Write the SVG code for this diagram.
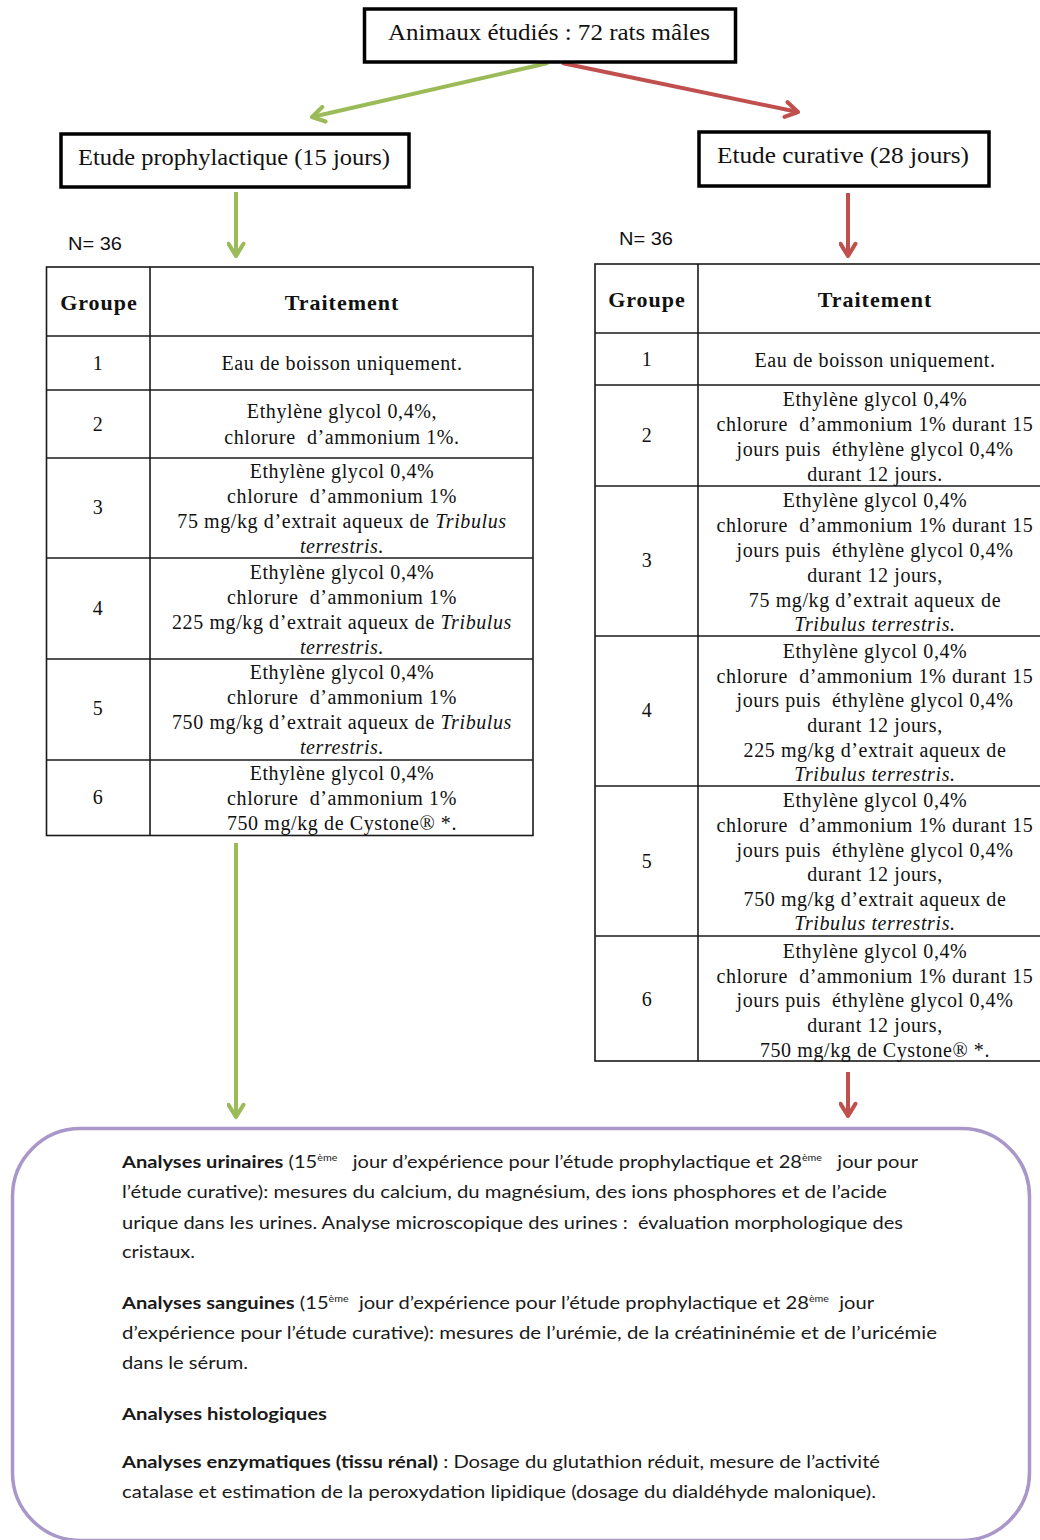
<svg xmlns="http://www.w3.org/2000/svg" width="1040" height="1540" viewBox="0 0 1040 1540">
<style>
.box{fill:#fff;stroke:#000;stroke-width:3.5}
.tbl{fill:none;stroke:#1a1a1a;stroke-width:1.6}
.hd{font-family:"Liberation Serif",serif;font-size:23px;fill:#111}
.n{font-family:"Liberation Sans",sans-serif;font-size:18px;fill:#111}
.th{font-family:"Liberation Serif",serif;font-size:22px;font-weight:bold;letter-spacing:1px;fill:#111;text-anchor:middle}
.td{font-family:"Liberation Serif",serif;font-size:20px;letter-spacing:0.6px;fill:#111;text-anchor:middle;white-space:pre}
.it{font-style:italic}
.g{stroke:#9bbb59;stroke-width:4;fill:none}
.r{stroke:#c0504d;stroke-width:4;fill:none}
.bt{font-family:Lato,"Liberation Sans",sans-serif;font-size:17px;fill:#1a1a1a;white-space:pre}
.b{font-weight:bold}
.sup{font-size:9px}
</style>
<defs>
<marker id="ag" viewBox="0 0 14 14" refX="11" refY="7" markerWidth="19" markerHeight="19" markerUnits="userSpaceOnUse" orient="auto">
<path d="M2,1.5 L11,7 L2,12.5" fill="none" stroke="#9bbb59" stroke-width="3" stroke-linecap="round" stroke-linejoin="round"/>
</marker>
<marker id="ar" viewBox="0 0 14 14" refX="11" refY="7" markerWidth="19" markerHeight="19" markerUnits="userSpaceOnUse" orient="auto">
<path d="M2,1.5 L11,7 L2,12.5" fill="none" stroke="#c0504d" stroke-width="3" stroke-linecap="round" stroke-linejoin="round"/>
</marker>
</defs>
<rect width="1040" height="1540" fill="#fff"/>

<g id="connectors">
<line class="g" x1="548" y1="63" x2="312" y2="117" marker-end="url(#ag)"/>
<line class="r" x1="562" y1="63" x2="798" y2="112" marker-end="url(#ar)"/>
<line class="g" x1="236" y1="192" x2="236" y2="256" marker-end="url(#ag)"/>
<line class="r" x1="848" y1="193" x2="848" y2="256" marker-end="url(#ar)"/>
<line class="g" x1="236" y1="843" x2="236" y2="1117" marker-end="url(#ag)"/>
<line class="r" x1="848" y1="1072" x2="848" y2="1116" marker-end="url(#ar)"/>
</g>

<g id="node-animaux">
<rect class="box" x="364.5" y="9" width="371" height="53"/>
<text class="hd" x="388" y="40" textLength="322" lengthAdjust="spacingAndGlyphs">Animaux étudiés : 72 rats mâles</text>
</g>

<g id="node-prophylactique">
<rect class="box" x="61" y="134" width="348" height="53"/>
<text class="hd" x="78" y="165" textLength="312" lengthAdjust="spacingAndGlyphs">Etude prophylactique (15 jours)</text>
</g>

<g id="node-curative">
<rect class="box" x="699" y="132" width="290" height="54"/>
<text class="hd" x="717" y="163" textLength="252" lengthAdjust="spacingAndGlyphs">Etude curative (28 jours)</text>
</g>

<g id="table-prophylactique">
<text class="n" x="68" y="250" textLength="54" lengthAdjust="spacingAndGlyphs">N= 36</text>
<rect class="tbl" x="46.5" y="267" width="486.5" height="568.5"/>
<line class="tbl" x1="150" y1="267" x2="150" y2="835.5"/>
<line class="tbl" x1="46.5" y1="336" x2="533" y2="336"/>
<line class="tbl" x1="46.5" y1="390" x2="533" y2="390"/>
<line class="tbl" x1="46.5" y1="458" x2="533" y2="458"/>
<line class="tbl" x1="46.5" y1="558" x2="533" y2="558"/>
<line class="tbl" x1="46.5" y1="659" x2="533" y2="659"/>
<line class="tbl" x1="46.5" y1="760" x2="533" y2="760"/>
<text class="th" x="99" y="310">Groupe</text>
<text class="th" x="342" y="310">Traitement</text>
<text class="td" x="98" y="370">1</text>
<text class="td" x="342" y="370">Eau de boisson uniquement.</text>
<text class="td" x="98" y="431">2</text>
<text class="td" x="342" y="418">Ethylène glycol 0,4%,</text>
<text class="td" x="342" y="444">chlorure  d’ammonium 1%.</text>
<text class="td" x="98" y="514">3</text>
<text class="td" x="342" y="478">Ethylène glycol 0,4%</text>
<text class="td" x="342" y="503">chlorure  d’ammonium 1%</text>
<text class="td" x="342" y="528">75 mg/kg d’extrait aqueux de <tspan class="it">Tribulus</tspan></text>
<text class="td it" x="342" y="553">terrestris.</text>
<text class="td" x="98" y="615">4</text>
<text class="td" x="342" y="579">Ethylène glycol 0,4%</text>
<text class="td" x="342" y="604">chlorure  d’ammonium 1%</text>
<text class="td" x="342" y="629">225 mg/kg d’extrait aqueux de <tspan class="it">Tribulus</tspan></text>
<text class="td it" x="342" y="654">terrestris.</text>
<text class="td" x="98" y="715">5</text>
<text class="td" x="342" y="679">Ethylène glycol 0,4%</text>
<text class="td" x="342" y="704">chlorure  d’ammonium 1%</text>
<text class="td" x="342" y="729">750 mg/kg d’extrait aqueux de <tspan class="it">Tribulus</tspan></text>
<text class="td it" x="342" y="754">terrestris.</text>
<text class="td" x="98" y="804">6</text>
<text class="td" x="342" y="780">Ethylène glycol 0,4%</text>
<text class="td" x="342" y="805">chlorure  d’ammonium 1%</text>
<text class="td" x="342" y="830">750 mg/kg de Cystone® *.</text>
</g>

<g id="table-curative">
<text class="n" x="619" y="245" textLength="54" lengthAdjust="spacingAndGlyphs">N= 36</text>
<rect class="tbl" x="595" y="264" width="460" height="797"/>
<line class="tbl" x1="698" y1="264" x2="698" y2="1061"/>
<line class="tbl" x1="595" y1="333" x2="1055" y2="333"/>
<line class="tbl" x1="595" y1="385" x2="1055" y2="385"/>
<line class="tbl" x1="595" y1="486" x2="1055" y2="486"/>
<line class="tbl" x1="595" y1="636" x2="1055" y2="636"/>
<line class="tbl" x1="595" y1="786" x2="1055" y2="786"/>
<line class="tbl" x1="595" y1="936" x2="1055" y2="936"/>
<text class="th" x="647" y="307">Groupe</text>
<text class="th" x="875" y="307">Traitement</text>
<text class="td" x="647" y="366">1</text>
<text class="td" x="875" y="367">Eau de boisson uniquement.</text>
<text class="td" x="647" y="442">2</text>
<text class="td" x="875" y="406">Ethylène glycol 0,4%</text>
<text class="td" x="875" y="431">chlorure  d’ammonium 1% durant 15</text>
<text class="td" x="875" y="456">jours puis  éthylène glycol 0,4%</text>
<text class="td" x="875" y="481">durant 12 jours.</text>
<text class="td" x="647" y="567">3</text>
<text class="td" x="875" y="507">Ethylène glycol 0,4%</text>
<text class="td" x="875" y="532">chlorure  d’ammonium 1% durant 15</text>
<text class="td" x="875" y="557">jours puis  éthylène glycol 0,4%</text>
<text class="td" x="875" y="582">durant 12 jours,</text>
<text class="td" x="875" y="607">75 mg/kg d’extrait aqueux de</text>
<text class="td it" x="875" y="631">Tribulus terrestris.</text>
<text class="td" x="647" y="717">4</text>
<text class="td" x="875" y="658">Ethylène glycol 0,4%</text>
<text class="td" x="875" y="683">chlorure  d’ammonium 1% durant 15</text>
<text class="td" x="875" y="707">jours puis  éthylène glycol 0,4%</text>
<text class="td" x="875" y="732">durant 12 jours,</text>
<text class="td" x="875" y="757">225 mg/kg d’extrait aqueux de</text>
<text class="td it" x="875" y="781">Tribulus terrestris.</text>
<text class="td" x="647" y="868">5</text>
<text class="td" x="875" y="807">Ethylène glycol 0,4%</text>
<text class="td" x="875" y="832">chlorure  d’ammonium 1% durant 15</text>
<text class="td" x="875" y="857">jours puis  éthylène glycol 0,4%</text>
<text class="td" x="875" y="881">durant 12 jours,</text>
<text class="td" x="875" y="906">750 mg/kg d’extrait aqueux de</text>
<text class="td it" x="875" y="930">Tribulus terrestris.</text>
<text class="td" x="647" y="1006">6</text>
<text class="td" x="875" y="958">Ethylène glycol 0,4%</text>
<text class="td" x="875" y="983">chlorure  d’ammonium 1% durant 15</text>
<text class="td" x="875" y="1007">jours puis  éthylène glycol 0,4%</text>
<text class="td" x="875" y="1032">durant 12 jours,</text>
<text class="td" x="875" y="1057">750 mg/kg de Cystone® *.</text>
</g>

<g id="node-analyses">
<rect x="12.5" y="1128.5" width="1017" height="412" rx="68" ry="68" fill="#fff" stroke="#a897c8" stroke-width="3.5"/>
<text class="bt" x="122" y="1168" textLength="796" lengthAdjust="spacingAndGlyphs"><tspan class="b">Analyses urinaires</tspan> (15<tspan class="sup" dy="-7">ème</tspan><tspan dy="7">   jour d’expérience pour l’étude prophylactique et 28</tspan><tspan class="sup" dy="-7">ème</tspan><tspan dy="7">   jour pour</tspan></text>
<text class="bt" x="122" y="1198" textLength="765" lengthAdjust="spacingAndGlyphs">l’étude curative): mesures du calcium, du magnésium, des ions phosphores et de l’acide</text>
<text class="bt" x="122" y="1229" textLength="781" lengthAdjust="spacingAndGlyphs">urique dans les urines. Analyse microscopique des urines :  évaluation morphologique des</text>
<text class="bt" x="122" y="1258" textLength="73" lengthAdjust="spacingAndGlyphs">cristaux.</text>
<text class="bt" x="122" y="1309" textLength="752" lengthAdjust="spacingAndGlyphs"><tspan class="b">Analyses sanguines</tspan> (15<tspan class="sup" dy="-7">ème</tspan><tspan dy="7">  jour d’expérience pour l’étude prophylactique et 28</tspan><tspan class="sup" dy="-7">ème</tspan><tspan dy="7">  jour</tspan></text>
<text class="bt" x="122" y="1339" textLength="815" lengthAdjust="spacingAndGlyphs">d’expérience pour l’étude curative): mesures de l’urémie, de la créatininémie et de l’uricémie</text>
<text class="bt" x="122" y="1369" textLength="126" lengthAdjust="spacingAndGlyphs">dans le sérum.</text>
<text class="bt b" x="122" y="1420" textLength="205" lengthAdjust="spacingAndGlyphs">Analyses histologiques</text>
<text class="bt" x="122" y="1468" textLength="758" lengthAdjust="spacingAndGlyphs"><tspan class="b">Analyses enzymatiques (tissu rénal)</tspan> : Dosage du glutathion réduit, mesure de l’activité</text>
<text class="bt" x="122" y="1498" textLength="754" lengthAdjust="spacingAndGlyphs">catalase et estimation de la peroxydation lipidique (dosage du dialdéhyde malonique).</text>
</g>
</svg>
